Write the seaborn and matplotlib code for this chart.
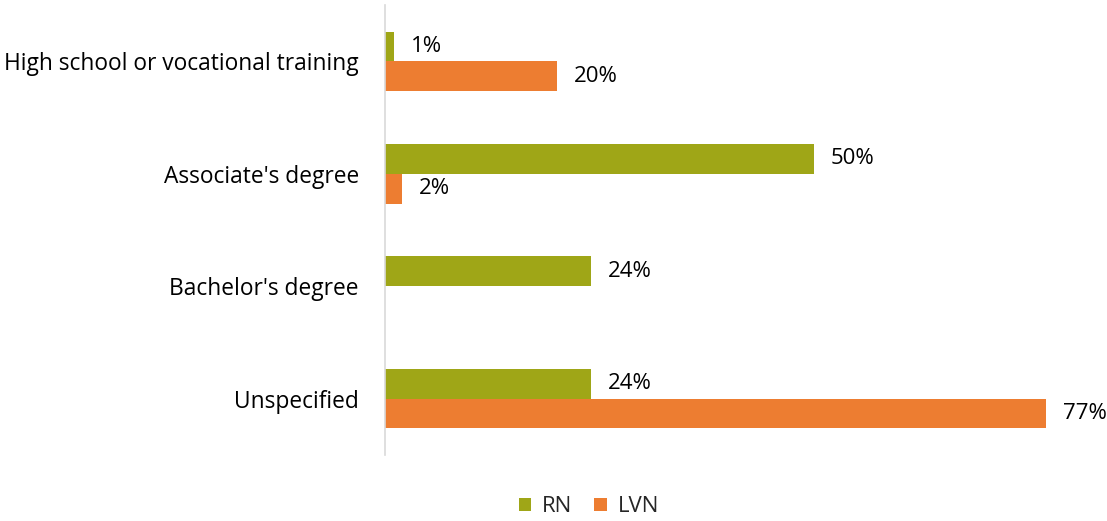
import pandas as pd
import numpy as np
import matplotlib
matplotlib.use("Agg")
import matplotlib.pyplot as plt
import seaborn as sns

################### data ###########################################

categories = ["High school or vocational training", "Associate's degree",
              "Bachelor's degree", "Unspecified"]
rn = [1, 50, 24, 24]
lvn = [20, 2, 0, 77]
series = ["RN", "LVN"]
colors = ["#9FA617", "#ED7D31"]

df = pd.DataFrame({
    "category": categories * 2,
    "value": rn + lvn,
    "group": [series[0]] * len(categories) + [series[1]] * len(categories),
})

################### plot ###########################################

sns.set_style("white")
plt.rcParams['font.family'] = ['Open Sans', 'DejaVu Sans']

fig = plt.figure(figsize=(11.07, 5.21), dpi=100)
ax = fig.add_axes([0.348, 0.127, 0.62, 0.863])

sns.barplot(data=df, y="category", x="value", hue="group", order=categories,
            hue_order=series, palette=colors, width=0.53, orient="h",
            saturation=1, linewidth=0, ax=ax, legend=True)

for cont in ax.containers:
    labels = ["{}%".format(int(v)) if v > 0 else "" for v in cont.datavalues]
    ax.bar_label(cont, labels=labels, padding=12, fontsize=16, color="#000000")

ax.set_xlim(0, 80)
ax.set_ylim(3.5, -0.5)
ax.set_xlabel("")
ax.set_ylabel("")
ax.set_xticks([])
ax.tick_params(axis="y", length=0, pad=19, labelsize=16.4, labelcolor="#000000")
for s in ["top", "right", "bottom"]:
    ax.spines[s].set_visible(False)
ax.spines["left"].set_color("#D9D9D9")
ax.spines["left"].set_linewidth(1.2)

# legend centred under the whole figure, slightly right of middle like the original
handles, lbls = ax.get_legend_handles_labels()
fig.legend(handles, lbls, loc="center", bbox_to_anchor=(0.532, 0.027),
           ncol=2, frameon=False, fontsize=16, handlelength=0.55, handleheight=0.55,
           columnspacing=1.0, handletextpad=0.5)
ax.get_legend().remove()

fig.savefig("out.png", dpi=100)
